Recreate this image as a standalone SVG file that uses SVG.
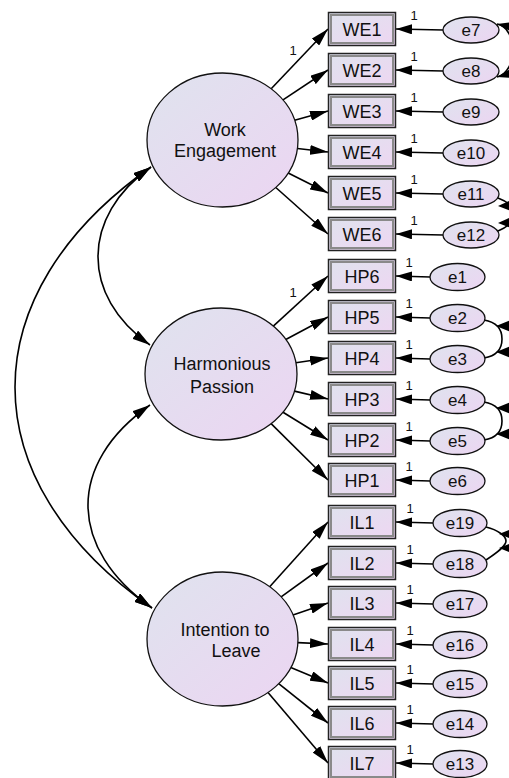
<svg xmlns="http://www.w3.org/2000/svg" width="509" height="778" viewBox="0 0 509 778">
<defs>
<linearGradient id="gb" x1="0" y1="0" x2="1" y2="1"><stop offset="0" stop-color="#dfe3ee"/><stop offset="1" stop-color="#eed6f2"/></linearGradient>
<linearGradient id="gl" x1="0" y1="0" x2="1" y2="1"><stop offset="0" stop-color="#dfe3ee"/><stop offset="1" stop-color="#ecd5f2"/></linearGradient>
<marker id="ah" markerUnits="userSpaceOnUse" markerWidth="18" markerHeight="10" refX="18" refY="5" orient="auto-start-reverse"><path d="M0,0 L18,5 L0,10 z" fill="#000"/></marker>
<marker id="ae" markerUnits="userSpaceOnUse" markerWidth="16" markerHeight="10" refX="16" refY="5" orient="auto-start-reverse"><path d="M0,0 L16,5 L0,10 z" fill="#000"/></marker>
</defs>
<style>
text{font-family:"Liberation Sans",Arial,sans-serif;fill:#111;text-anchor:middle}
.lat{fill:url(#gl);stroke:#111;stroke-width:1.3}
.lt{font-size:18px}
.bo{fill:url(#gb);stroke:#222;stroke-width:1.5}
.bi{fill:none;stroke:#8a8a8a;stroke-width:2}
.bt{font-size:18px}
.er{fill:url(#gl);stroke:#111;stroke-width:1.3}
.et{font-size:17px}
.one{font-size:13px}
.p{fill:none;stroke:#000;stroke-width:1.6;marker-end:url(#ah)}
.pe{fill:none;stroke:#000;stroke-width:1.6;marker-end:url(#ae)}
.cv{fill:none;stroke:#000;stroke-width:1.6;marker-start:url(#ah);marker-end:url(#ah)}
.cve{fill:none;stroke:#000;stroke-width:1.6;marker-start:url(#ae);marker-end:url(#ae)}
.cvn{fill:none;stroke:#000;stroke-width:1.6}
.hd{fill:#000}
</style>
<g id="connectors">
<path class="cv" d="M151,167 C81,216 80,296 150,345"/>
<path class="cv" d="M151,167 C-30,294 -31,480 152,608"/>
<path class="cv" d="M150,405 C66,464 68,549 152,608"/>
<path class="p" d="M271.2,88.8 L328,29"/>
<path class="p" d="M283,99.9 L328,70"/>
<path class="p" d="M294.6,120.2 L328,111"/>
<path class="p" d="M297.4,148.5 L328,152"/>
<path class="p" d="M288.2,173 L328,193"/>
<path class="p" d="M275.8,187.5 L328,234"/>
<path class="p" d="M273.3,326.1 L328,276"/>
<path class="p" d="M285.8,339.5 L328,317"/>
<path class="p" d="M295.9,362.8 L328,358"/>
<path class="p" d="M294.4,391.1 L328,399"/>
<path class="p" d="M283,412.2 L328,440"/>
<path class="p" d="M271.1,423.6 L328,480"/>
<path class="p" d="M269.7,586.7 L328,522"/>
<path class="p" d="M281.1,596.8 L328,563"/>
<path class="p" d="M293,615 L328,603"/>
<path class="p" d="M297.9,642.6 L328,644"/>
<path class="p" d="M290.8,667.5 L328,683"/>
<path class="p" d="M278.7,683.7 L328,723"/>
<path class="p" d="M268,692.5 L328,763"/>
<path class="pe" d="M443,30 L396,29"/>
<path class="pe" d="M443,71 L396,70"/>
<path class="pe" d="M443,112 L396,111"/>
<path class="pe" d="M443,153 L396,152"/>
<path class="pe" d="M443,194 L396,193"/>
<path class="pe" d="M443,235 L396,234"/>
<path class="pe" d="M430,277 L396,276"/>
<path class="pe" d="M430,318 L396,317"/>
<path class="pe" d="M430,359 L396,358"/>
<path class="pe" d="M430,400 L396,399"/>
<path class="pe" d="M430,441 L396,440"/>
<path class="pe" d="M430,481 L396,480"/>
<path class="pe" d="M433,523 L396,522"/>
<path class="pe" d="M433,564 L396,563"/>
<path class="pe" d="M433,604 L396,603"/>
<path class="pe" d="M433,645 L396,644"/>
<path class="pe" d="M433,684 L396,683"/>
<path class="pe" d="M433,724 L396,723"/>
<path class="pe" d="M433,764 L396,763"/>
<path class="cve" d="M497,24 C518,28 518,72 497,77"/>
<path class="cvn" d="M498,198 C506,201 516,208 516,214 C516,220 506,228 498,231"/>
<polygon class="hd" points="498,206 516,198 516,213"/>
<polygon class="hd" points="498,223 516,215 516,230"/>
<path class="cvn" d="M484,320 C496,322 502,328 502,339 C502,350 496,356 484,358"/>
<polygon class="hd" points="496,326 516,318 516,334"/>
<polygon class="hd" points="496,352 516,344 516,360"/>
<path class="cvn" d="M484,402 C496,404 502,410 502,421 C502,432 496,438 484,440"/>
<polygon class="hd" points="496,408 516,400 516,416"/>
<polygon class="hd" points="496,434 516,426 516,442"/>
<path class="cvn" d="M486,527 C498,530 506,536 506,541 C506,546 498,552 486,560"/>
<polygon class="hd" points="499,534 516,527 516,541"/>
<polygon class="hd" points="499,548 516,541 516,555"/>
<text class="one" x="293" y="55">1</text>
<text class="one" x="293" y="297">1</text>
<text class="one" x="414" y="20">1</text>
<text class="one" x="414" y="61">1</text>
<text class="one" x="414" y="102">1</text>
<text class="one" x="414" y="143">1</text>
<text class="one" x="414" y="184">1</text>
<text class="one" x="414" y="225">1</text>
<text class="one" x="409" y="267">1</text>
<text class="one" x="409" y="308">1</text>
<text class="one" x="409" y="349">1</text>
<text class="one" x="409" y="390">1</text>
<text class="one" x="409" y="431">1</text>
<text class="one" x="409" y="471">1</text>
<text class="one" x="410" y="513">1</text>
<text class="one" x="410" y="554">1</text>
<text class="one" x="410" y="594">1</text>
<text class="one" x="410" y="635">1</text>
<text class="one" x="410" y="674">1</text>
<text class="one" x="410" y="714">1</text>
<text class="one" x="410" y="754">1</text>
</g>
<g id="WorkEngagement"><ellipse class="lat" cx="222.5" cy="140" rx="75.5" ry="67"/><text class="lt" x="225" y="136">Work</text><text class="lt" x="225" y="157">Engagement</text></g>
<g id="HarmoniousPassion"><ellipse class="lat" cx="221" cy="374" rx="76" ry="66"/><text class="lt" x="222" y="370">Harmonious</text><text class="lt" x="222" y="393">Passion</text></g>
<g id="IntentionToLeave"><ellipse class="lat" cx="222.5" cy="639" rx="75.5" ry="67"/><text class="lt" x="225" y="636">Intention to</text><text class="lt" x="236" y="657">Leave</text></g>
<g id="WE1"><rect class="bo" x="328.5" y="12.5" width="67" height="33"/><rect class="bi" x="331" y="15" width="62" height="28"/><text class="bt" x="362" y="36">WE1</text></g>
<g id="WE2"><rect class="bo" x="328.5" y="53.5" width="67" height="33"/><rect class="bi" x="331" y="56" width="62" height="28"/><text class="bt" x="362" y="77">WE2</text></g>
<g id="WE3"><rect class="bo" x="328.5" y="94.5" width="67" height="33"/><rect class="bi" x="331" y="97" width="62" height="28"/><text class="bt" x="362" y="118">WE3</text></g>
<g id="WE4"><rect class="bo" x="328.5" y="135.5" width="67" height="33"/><rect class="bi" x="331" y="138" width="62" height="28"/><text class="bt" x="362" y="159">WE4</text></g>
<g id="WE5"><rect class="bo" x="328.5" y="176.5" width="67" height="33"/><rect class="bi" x="331" y="179" width="62" height="28"/><text class="bt" x="362" y="200">WE5</text></g>
<g id="WE6"><rect class="bo" x="328.5" y="217.5" width="67" height="33"/><rect class="bi" x="331" y="220" width="62" height="28"/><text class="bt" x="362" y="241">WE6</text></g>
<g id="HP6"><rect class="bo" x="328.5" y="259.5" width="67" height="33"/><rect class="bi" x="331" y="262" width="62" height="28"/><text class="bt" x="362" y="283">HP6</text></g>
<g id="HP5"><rect class="bo" x="328.5" y="300.5" width="67" height="33"/><rect class="bi" x="331" y="303" width="62" height="28"/><text class="bt" x="362" y="324">HP5</text></g>
<g id="HP4"><rect class="bo" x="328.5" y="341.5" width="67" height="33"/><rect class="bi" x="331" y="344" width="62" height="28"/><text class="bt" x="362" y="365">HP4</text></g>
<g id="HP3"><rect class="bo" x="328.5" y="382.5" width="67" height="33"/><rect class="bi" x="331" y="385" width="62" height="28"/><text class="bt" x="362" y="406">HP3</text></g>
<g id="HP2"><rect class="bo" x="328.5" y="423.5" width="67" height="33"/><rect class="bi" x="331" y="426" width="62" height="28"/><text class="bt" x="362" y="447">HP2</text></g>
<g id="HP1"><rect class="bo" x="328.5" y="463.5" width="67" height="33"/><rect class="bi" x="331" y="466" width="62" height="28"/><text class="bt" x="362" y="487">HP1</text></g>
<g id="IL1"><rect class="bo" x="328.5" y="505.5" width="67" height="33"/><rect class="bi" x="331" y="508" width="62" height="28"/><text class="bt" x="362" y="529">IL1</text></g>
<g id="IL2"><rect class="bo" x="328.5" y="546.5" width="67" height="33"/><rect class="bi" x="331" y="549" width="62" height="28"/><text class="bt" x="362" y="570">IL2</text></g>
<g id="IL3"><rect class="bo" x="328.5" y="586.5" width="67" height="33"/><rect class="bi" x="331" y="589" width="62" height="28"/><text class="bt" x="362" y="610">IL3</text></g>
<g id="IL4"><rect class="bo" x="328.5" y="627.5" width="67" height="33"/><rect class="bi" x="331" y="630" width="62" height="28"/><text class="bt" x="362" y="651">IL4</text></g>
<g id="IL5"><rect class="bo" x="328.5" y="666.5" width="67" height="33"/><rect class="bi" x="331" y="669" width="62" height="28"/><text class="bt" x="362" y="690">IL5</text></g>
<g id="IL6"><rect class="bo" x="328.5" y="706.5" width="67" height="33"/><rect class="bi" x="331" y="709" width="62" height="28"/><text class="bt" x="362" y="730">IL6</text></g>
<g id="IL7"><rect class="bo" x="328.5" y="746.5" width="67" height="33"/><rect class="bi" x="331" y="749" width="62" height="28"/><text class="bt" x="362" y="770">IL7</text></g>
<g id="e7"><ellipse class="er" cx="471" cy="30" rx="28" ry="13"/><text class="et" x="471" y="36">e7</text></g>
<g id="e8"><ellipse class="er" cx="471" cy="71" rx="28" ry="13"/><text class="et" x="471" y="77">e8</text></g>
<g id="e9"><ellipse class="er" cx="471" cy="112" rx="28" ry="13"/><text class="et" x="471" y="118">e9</text></g>
<g id="e10"><ellipse class="er" cx="471" cy="153" rx="28" ry="13"/><text class="et" x="471" y="159">e10</text></g>
<g id="e11"><ellipse class="er" cx="471" cy="194" rx="28" ry="13"/><text class="et" x="471" y="200">e11</text></g>
<g id="e12"><ellipse class="er" cx="471" cy="235" rx="28" ry="13"/><text class="et" x="471" y="241">e12</text></g>
<g id="e1"><ellipse class="er" cx="457.5" cy="277" rx="27.5" ry="13.5"/><text class="et" x="457.5" y="283">e1</text></g>
<g id="e2"><ellipse class="er" cx="457.5" cy="318" rx="27.5" ry="13.5"/><text class="et" x="457.5" y="324">e2</text></g>
<g id="e3"><ellipse class="er" cx="457.5" cy="359" rx="27.5" ry="13.5"/><text class="et" x="457.5" y="365">e3</text></g>
<g id="e4"><ellipse class="er" cx="457.5" cy="400" rx="27.5" ry="13.5"/><text class="et" x="457.5" y="406">e4</text></g>
<g id="e5"><ellipse class="er" cx="457.5" cy="441" rx="27.5" ry="13.5"/><text class="et" x="457.5" y="447">e5</text></g>
<g id="e6"><ellipse class="er" cx="457.5" cy="481" rx="27.5" ry="13.5"/><text class="et" x="457.5" y="487">e6</text></g>
<g id="e19"><ellipse class="er" cx="460" cy="523" rx="27" ry="13.5"/><text class="et" x="460" y="529">e19</text></g>
<g id="e18"><ellipse class="er" cx="460" cy="564" rx="27" ry="13.5"/><text class="et" x="460" y="570">e18</text></g>
<g id="e17"><ellipse class="er" cx="460" cy="604" rx="27" ry="13.5"/><text class="et" x="460" y="610">e17</text></g>
<g id="e16"><ellipse class="er" cx="460" cy="645" rx="27" ry="13.5"/><text class="et" x="460" y="651">e16</text></g>
<g id="e15"><ellipse class="er" cx="460" cy="684" rx="27" ry="13.5"/><text class="et" x="460" y="690">e15</text></g>
<g id="e14"><ellipse class="er" cx="460" cy="724" rx="27" ry="13.5"/><text class="et" x="460" y="730">e14</text></g>
<g id="e13"><ellipse class="er" cx="460" cy="764" rx="27" ry="13.5"/><text class="et" x="460" y="770">e13</text></g>
</svg>
